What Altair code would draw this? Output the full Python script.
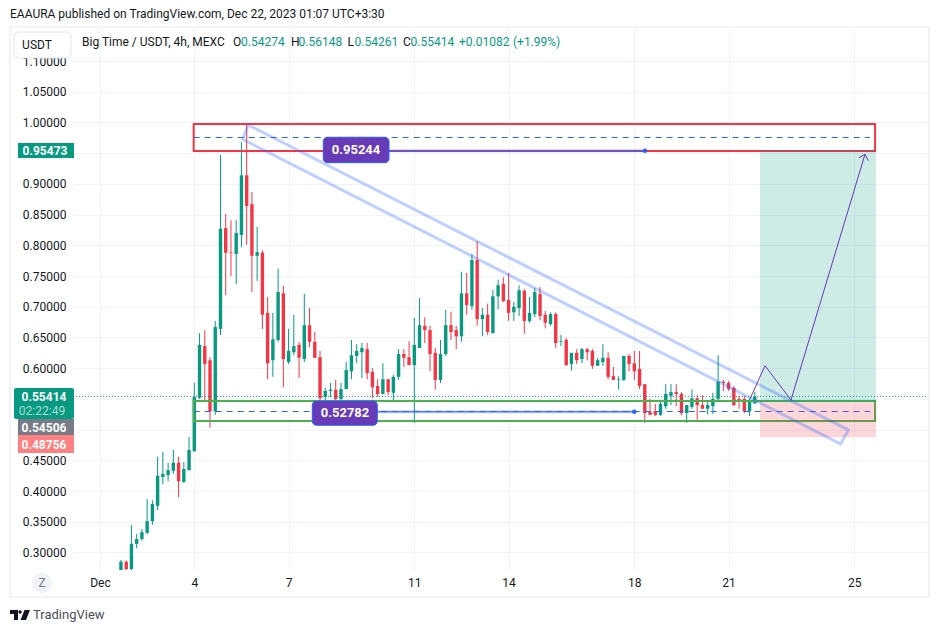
import altair as alt
import pandas as pd

FONT = "Roboto"
INK = "#131722"
UP = "#089981"
DOWN = "#F23645"
BLUE = "#2962FF"
PURPLE = "#673AB7"

# 4h candles, prices (first bar sits 14 bars before Dec 4 00:00)
directions = ("UDUUUUUUUUUDUUUUDDUUDDUUDDUDDUUDUUDUDDDUUDUUUUUDDDUDUUDDUUDDDUUDDUDUDUDUUDDUUDUUDDUDUDUDUDDUUDDUUDDDDDDUUUDDUUDDUUUDDDDDUU")
highs = [.288,.287,.345,.330,.338,.387,.385,.456,.464,.446,
         .467,.456,.447,.488,.576,.657,.662,.618,.677,.947,
         .851,.841,.841,.968,.998,.887,.830,.792,.716,.690,
         .762,.734,.664,.687,.643,.721,.698,.659,.628,.568,
         .576,.581,.576,.610,.646,.639,.641,.641,.600,.582,
         .608,.582,.589,.631,.631,.644,.682,.714,.683,.669,
         .633,.646,.695,.692,.669,.757,.755,.786,.807,.698,
         .705,.727,.744,.748,.755,.708,.735,.729,.716,.731,
         .732,.693,.691,.691,.654,.649,.625,.631,.633,.633,
         .631,.617,.639,.626,.602,.587,.620,.623,.628,.628,
         .574,.550,.542,.547,.574,.574,.574,.561,.540,.565,
         .556,.556,.547,.560,.621,.581,.579,.571,.555,.555,
         .551,.56148]
body_tops = [.285,.285,.314,.322,.333,.351,.379,.425,.428,.434,
             .446,.446,.436,.467,.553,.638,.636,.613,.667,.827,
             .828,.789,.820,.914,.914,.867,.789,.788,.690,.647,
             .724,.722,.628,.636,.638,.670,.670,.643,.618,.563,
             .565,.565,.566,.597,.621,.628,.633,.631,.594,.571,
             .582,.582,.586,.623,.623,.618,.638,.670,.669,.662,
             .625,.623,.670,.670,.662,.722,.722,.776,.776,.687,
             .687,.717,.735,.737,.711,.700,.727,.726,.690,.724,
             .721,.687,.688,.688,.644,.646,.625,.625,.631,.631,
             .628,.613,.617,.617,.587,.582,.620,.620,.608,.599,
             .574,.529,.530,.542,.558,.561,.561,.558,.540,.551,
             .551,.540,.540,.550,.578,.578,.576,.568,.550,.550,
             .548,.55414]
body_bottoms = [.268,.273,.273,.314,.322,.332,.351,.376,.423,.426,
                .433,.416,.415,.434,.465,.552,.607,.530,.530,.664,
                .788,.788,.786,.817,.864,.783,.783,.687,.608,.613,
                .646,.615,.610,.626,.617,.615,.643,.617,.551,.553,
                .563,.550,.550,.566,.595,.620,.626,.592,.569,.558,
                .558,.561,.560,.586,.617,.605,.605,.633,.662,.623,
                .581,.581,.623,.659,.652,.652,.703,.701,.680,.680,
                .659,.657,.717,.709,.690,.691,.698,.677,.677,.688,
                .685,.674,.672,.641,.643,.605,.607,.613,.615,.626,
                .604,.604,.610,.586,.581,.581,.581,.607,.595,.571,
                .527,.524,.524,.524,.538,.555,.558,.527,.527,.537,
                .540,.534,.534,.538,.550,.576,.566,.540,.548,.530,
                .530,.54274]
lows = [.265,.271,.270,.307,.319,.330,.345,.369,.411,.416,
        .428,.390,.413,.434,.464,.550,.547,.503,.524,.654,
        .719,.750,.737,.797,.801,.724,.742,.664,.582,.586,
        .643,.569,.607,.621,.584,.610,.634,.617,.534,.543,
        .553,.540,.543,.566,.582,.608,.584,.582,.551,.553,
        .558,.556,.548,.581,.602,.605,.511,.633,.641,.595,
        .565,.576,.620,.646,.631,.643,.687,.695,.669,.652,
        .654,.657,.696,.708,.677,.677,.685,.656,.674,.683,
        .678,.665,.669,.633,.636,.604,.596,.607,.608,.613,
        .599,.604,.604,.582,.581,.565,.579,.595,.581,.566,
        .511,.524,.522,.522,.534,.540,.538,.524,.511,.534,
        .516,.534,.525,.525,.545,.563,.563,.538,.534,.527,
        .522,.54261]

# drawings, in (day of December, price)
axis_days = [1, 4, 7, 11, 14, 18, 21, 25]
axis_prices = [.30,.35,.40,.45,.50,.55,.60,.65,.70,.75,.80,.85,.90,.95,1.00,1.05,1.10]
channel_days = [5.718, 24.808, 24.566, 5.540, 5.718]
channel_prices = [.9959, .4994, .4766, .9726, .9959]
path_days = [21.68, 22.158, 22.985, 25.34]
path_prices = [.5499, .6040, .5482, .9482]
head_days = [25.149, 25.34, 25.445]
head_prices = [.9426, .9482, .9378]
last_close = 0.55414
entry, stop, target = 0.54506, 0.48756, 0.95473

x_scale = alt.Scale(domain=[0.1407, 27.376], nice=False, zero=False, padding=0)
y_scale = alt.Scale(domain=[0.2715, 1.15545], nice=False, zero=False, padding=0)
PLOT_X, PLOT_Y = 73, 27

x_axis = alt.Axis(values=axis_days, title=None, domain=False, ticks=False, labelPadding=7, labelFont=FONT,
                  labelFontSize=12, labelColor=INK, gridColor="#F0F3FA", gridWidth=1, grid=True,
                  labelExpr="datum.value == 1 ? 'Dec' : datum.label", labelFlush=False)
# the labels under the price badges are hidden in the reference; their grid lines stay
y_axis = alt.Axis(values=axis_prices, title=None, domain=False, ticks=False, labelPadding=7, labelFont=FONT,
                  labelFontSize=12, labelColor=INK, gridColor="#F0F3FA", gridWidth=1, grid=True,
                  format=".5f",
                  labelExpr="(datum.label == '0.50000' || datum.label == '0.55000' || datum.label == '0.95000') ? '' : datum.label")


def X(f="d"):
    return alt.X(f"{f}:Q", scale=x_scale, axis=x_axis)


def Y(f="p"):
    return alt.Y(f"{f}:Q", scale=y_scale, axis=y_axis)


def X2(f="d2"):
    return alt.X2(f"{f}:Q")


def Y2(f="p2"):
    return alt.Y2(f"{f}:Q")


def hline(d, d2, p, **kw):
    return alt.Chart(pd.DataFrame({"d": [d], "d2": [d2], "p": [p]})).mark_rule(**kw).encode(x=X(), x2=X2(), y=Y())


def box(d, d2, p, p2, **kw):
    return alt.Chart(pd.DataFrame({"d": [d], "d2": [d2], "p": [p], "p2": [p2]})).mark_rect(**kw).encode(
        x=X(), x2=X2(), y=Y(), y2=Y2())


def tag(d, p, text, **kw):
    return alt.Chart(pd.DataFrame({"d": [d], "p": [p], "t": [text]})).mark_text(**kw).encode(
        x=X(), y=Y(), text="t:N")


def ui_text(text, x, y, size=12, color=INK, align="left", weight="normal"):
    return alt.Chart(alt.Data(values=[{}])).mark_text(
        font=FONT, fontSize=size, color=color, align=align, baseline="middle", fontWeight=weight
    ).encode(x=alt.value(x - PLOT_X), y=alt.value(y - PLOT_Y), text=alt.value(text))


def ui_rect(x, x2, y, y2, **kw):
    return alt.Chart(alt.Data(values=[{}])).mark_rect(**kw).encode(
        x=alt.value(x - PLOT_X), x2=alt.value(x2 - PLOT_X),
        y=alt.value(y - PLOT_Y), y2=alt.value(y2 - PLOT_Y))


candles = pd.DataFrame({
    "d": [4 + (i - 14) / 6 for i in range(len(highs))],
    "high": highs, "low": lows, "top": body_tops, "bottom": body_bottoms,
    "dir": list(directions),
})
dir_color = alt.Color("dir:N", scale=alt.Scale(domain=["U", "D"], range=[UP, DOWN]), legend=None)

wicks = alt.Chart(candles).mark_rule(strokeWidth=1, clip=True).encode(
    x=X(), y=Y("high"), y2=Y2("low"), color=dir_color)
bodies = alt.Chart(candles).mark_bar(size=3.4, orient="vertical", clip=True).encode(
    x=X(), y=Y("top"), y2=Y2("bottom"), color=dir_color)

channel = alt.Chart(pd.DataFrame({"d": channel_days, "p": channel_prices, "o": range(5)})).mark_line(
    color=BLUE, strokeOpacity=0.3, strokeWidth=3, strokeJoin="miter").encode(x=X(), y=Y(), order="o:Q")
path = alt.Chart(pd.DataFrame({"d": path_days, "p": path_prices, "o": range(4)})).mark_line(
    color=PURPLE, strokeWidth=1).encode(x=X(), y=Y(), order="o:Q")
head = alt.Chart(pd.DataFrame({"d": head_days, "p": head_prices, "o": range(3)})).mark_line(
    color=PURPLE, strokeWidth=1).encode(x=X(), y=Y(), order="o:Q")
ends = alt.Chart(pd.DataFrame({"d": [18.34, 18.0], "p": [.9540, .5290]})).mark_point(
    filled=True, shape="circle", size=20, color=BLUE, opacity=1).encode(x=X(), y=Y())

logo_path = ("M-1 -0.5 H-0.2 V0.5 H-0.6 V-0.1 H-1 Z "
             "M-0.16 -0.3 A0.17 0.17 0 1 1 0.18 -0.3 A0.17 0.17 0 1 1 -0.16 -0.3 Z "
             "M0.45 -0.5 H1 L0.6 0.5 H0.05 Z")
logo = alt.Chart(alt.Data(values=[{}])).mark_point(
    shape=logo_path, size=400, filled=True, color=INK, opacity=1
).encode(x=alt.value(20 - PLOT_X), y=alt.value(615 - PLOT_Y))
z_dot = alt.Chart(alt.Data(values=[{}])).mark_point(
    shape="circle", size=400, filled=True, color="#F0F3FA", opacity=1
).encode(x=alt.value(42 - PLOT_X), y=alt.value(583 - PLOT_Y))

layers = [
    wicks, bodies,
    # range boxes and their mid lines
    box(3.98, 25.66, .9975, .9536, fillOpacity=0, stroke=DOWN, strokeWidth=2),
    box(3.98, 25.66, .5466, .5141, fillOpacity=0, stroke="#4CAF50", strokeWidth=2),
    hline(3.98, 25.5, .9756, color=BLUE, strokeWidth=1, strokeDash=[6, 5]),
    hline(3.98, 25.5, .5295, color=BLUE, strokeWidth=1, strokeDash=[6, 5]),
    # long position
    box(22.0, 25.69, target, entry, color=UP, opacity=0.2),
    box(22.0, 25.69, entry, stop, color=DOWN, opacity=0.2),
    channel, path, head,
    hline(10.16, 18.34, .9540, color=BLUE, strokeWidth=3, opacity=0.25),
    hline(10.16, 18.34, .9540, color=BLUE, strokeWidth=1),
    hline(9.8, 18.0, .5290, color=BLUE, strokeWidth=3, opacity=0.25),
    hline(9.8, 18.0, .5290, color=BLUE, strokeWidth=1),
    ends,
    box(8.104, 10.195, .9759, .9346, color=PURPLE, stroke=BLUE, strokeWidth=1, cornerRadius=4),
    tag(9.145, .9552, "0.95244", font=FONT, fontSize=13, fontWeight="bold", color="white", baseline="middle"),
    box(7.754, 9.823, .5466, .5071, color=PURPLE, stroke=BLUE, strokeWidth=1, cornerRadius=4),
    tag(8.795, .5270, "0.52782", font=FONT, fontSize=13, fontWeight="bold", color="white", baseline="middle"),
    hline(0.1407, 27.376, last_close, color=UP, strokeWidth=1, strokeDash=[1, 2]),
    # chart frame
    ui_rect(10, 929, 27, 597, fillOpacity=0, stroke="#F0F3FA", strokeWidth=2),
    # price-scale badges
    ui_rect(18, 74, 143, 158, color=UP),
    ui_text("0.95473", 45, 150.5, color="white", align="center", weight="bold"),
    ui_rect(14, 74, 388, 419, color=UP, cornerRadius=2),
    ui_text("0.55414", 44, 396.5, color="white", align="center", weight="bold"),
    ui_text("02:22:49", 42, 411, color="#A8DDD3", align="center"),
    ui_rect(18, 74, 419, 435, color="#787B86"),
    ui_text("0.54506", 44, 427.5, color="white", align="center", weight="bold"),
    ui_rect(18, 74, 435, 453, color="#FF8080"),
    ui_text("0.48756", 44, 445, color="white", align="center", weight="bold"),
    # currency button
    ui_rect(14, 71, 32, 58, color="white", stroke="#E0E3EB", strokeWidth=1, cornerRadius=5),
    ui_text("USDT", 37, 45, align="center"),
    # header
    ui_text("EAAURA published on TradingView.com, Dec 22, 2023 01:07 UTC+3:30", 10, 14),
    ui_text("Big Time / USDT, 4h, MEXC", 82, 42),
    ui_text("O", 233, 42),
    ui_text("0.54274", 241, 42, color=UP),
    ui_text("H", 291, 42),
    ui_text("0.56148", 298.5, 42, color=UP),
    ui_text("L", 347.5, 42),
    ui_text("0.54261", 354.5, 42, color=UP),
    ui_text("C", 403, 42),
    ui_text("0.55414", 410.5, 42, color=UP),
    ui_text("+0.01082", 459, 42, color=UP),
    ui_text("(+1.99%)", 513, 42, color=UP),
    # footer
    z_dot,
    ui_text("Z", 42, 583, color="#787B86", align="center"),
    logo,
    ui_text("TradingView", 33, 615, size=13, color="#4A4E58"),
]

chart = alt.layer(*layers).properties(
    width=856, height=543,
    padding={"left": 65, "top": 19, "right": 2, "bottom": 55},
    autosize=alt.AutoSizeParams(type="none"),
    background="white",
).configure_view(stroke=None)

chart.save("out.html", embed_options={"renderer": "svg", "actions": False})
